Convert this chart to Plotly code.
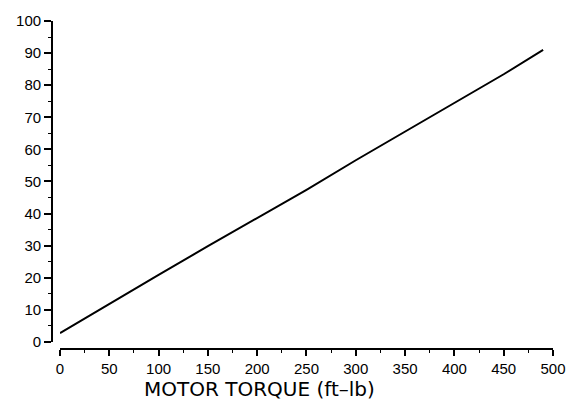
import plotly.graph_objects as go

# Motor torque (ft-lb) and the corresponding response value
torque = [0, 50, 100, 150, 200, 250, 300, 350, 400, 450, 490]
response = [2.7, 11.9, 20.9, 29.8, 38.6, 47.4, 56.6, 65.5, 74.5, 83.4, 91.0]

x_ticks = [0, 50, 100, 150, 200, 250, 300, 350, 400, 450, 500]
y_ticks = [0, 10, 20, 30, 40, 50, 60, 70, 80, 90, 100]

W, H = 578, 411
ml, mr, mt, mb = 52, 24, 15, 62
pw, ph = W - ml - mr, H - mt - mb

fig = go.Figure()
fig.add_trace(go.Scatter(
    x=torque, y=response, mode="lines",
    line=dict(color="black", width=2),
    showlegend=False, hoverinfo="skip",
))

tick_font = dict(family="Liberation Sans, Arial, sans-serif", size=15, color="black")

fig.update_layout(
    width=W, height=H,
    margin=dict(l=ml, r=mr, t=mt, b=mb),
    paper_bgcolor="white", plot_bgcolor="white",
    xaxis=dict(
        domain=[8 / pw, 1], range=[0, 500],
        anchor="free", position=0,
        tickvals=x_ticks, ticktext=[str(v) for v in x_ticks],
        ticks="outside", ticklen=6, tickwidth=1.5, tickcolor="black",
        showline=True, linecolor="black", linewidth=1.8,
        showgrid=False, zeroline=False, tickfont=tick_font,
        minor=dict(dtick=25, tick0=0, ticks="outside", ticklen=3,
                   tickwidth=1.2, tickcolor="black", showgrid=False),
    ),
    yaxis=dict(
        domain=[7.3 / ph, 1], range=[0, 100],
        anchor="free", position=0,
        tickvals=y_ticks, ticktext=[str(v) for v in y_ticks],
        ticks="outside", ticklen=7, tickwidth=1.5, tickcolor="black",
        showline=True, linecolor="black", linewidth=1.8,
        showgrid=False, zeroline=False, tickfont=tick_font,
        minor=dict(dtick=5, tick0=0, ticks="outside", ticklen=3,
                   tickwidth=1.2, tickcolor="black", showgrid=False),
    ),
    annotations=[dict(
        text="MOTOR TORQUE (ft\u2013lb)",
        xref="paper", yref="paper",
        x=(260 - ml) / pw, y=-(390 - (H - mb)) / ph,
        xanchor="center", yanchor="middle", showarrow=False,
        font=dict(family="DejaVu Sans, sans-serif", size=20, color="black"),
    )],
)

fig.write_html("out.html")
